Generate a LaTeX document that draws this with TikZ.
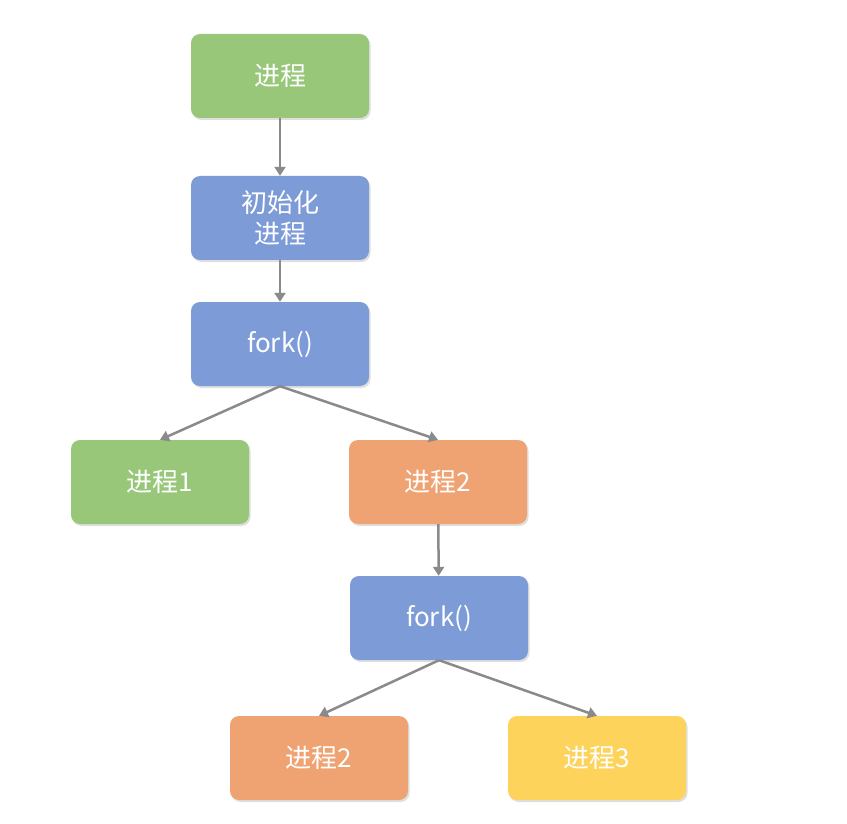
\documentclass[tikz,border=0pt]{standalone}
\usepackage{fontspec}
\setmainfont{Noto Sans CJK SC}
\usetikzlibrary{arrows.meta,shadows}
\definecolor{cg}{HTML}{98C77A}
\definecolor{cb}{HTML}{7D9BD7}
\definecolor{co}{HTML}{EFA373}
\definecolor{cy}{HTML}{FDD35C}
\definecolor{ca}{HTML}{8A8A8A}
\begin{document}
\begin{tikzpicture}[x=1pt,y=-1pt,
 box/.style={rounded corners=9pt,minimum width=178pt,minimum height=84pt,text=white,
   font=\fontsize{26}{31}\selectfont,align=center,inner sep=0pt,
   drop shadow={shadow xshift=1.5pt,shadow yshift=-2pt,opacity=0.25}},
 arr/.style={draw=ca,line width=2.5pt,-{Triangle[length=9pt,width=11pt]}}]
\useasboundingbox (0,0) rectangle (847,824);
\fill[white] (0,0) rectangle (847,824);
\node[box,fill=cg] (p) at (280,76) {进程};
\node[box,fill=cb] (i) at (280,218) {初始化\\进程};
\node[box,fill=cb] (f1) at (280,344) {fork()};
\node[box,fill=cg] (p1) at (160,482) {进程1};
\node[box,fill=co] (p2) at (438,482) {进程2};
\node[box,fill=cb] (f2) at (439,618) {fork()};
\node[box,fill=co] (q2) at (319,758) {进程2};
\node[box,fill=cy] (q3) at (597,758) {进程3};
\draw[arr] (p) -- (i);
\draw[arr] (i) -- (f1);
\draw[arr] (f1.south) -- (p1.north);
\draw[arr] (f1.south) -- (p2.north);
\draw[arr] (p2) -- (f2);
\draw[arr] (f2.south) -- (q2.north);
\draw[arr] (f2.south) -- (q3.north);
\end{tikzpicture}
\end{document}
